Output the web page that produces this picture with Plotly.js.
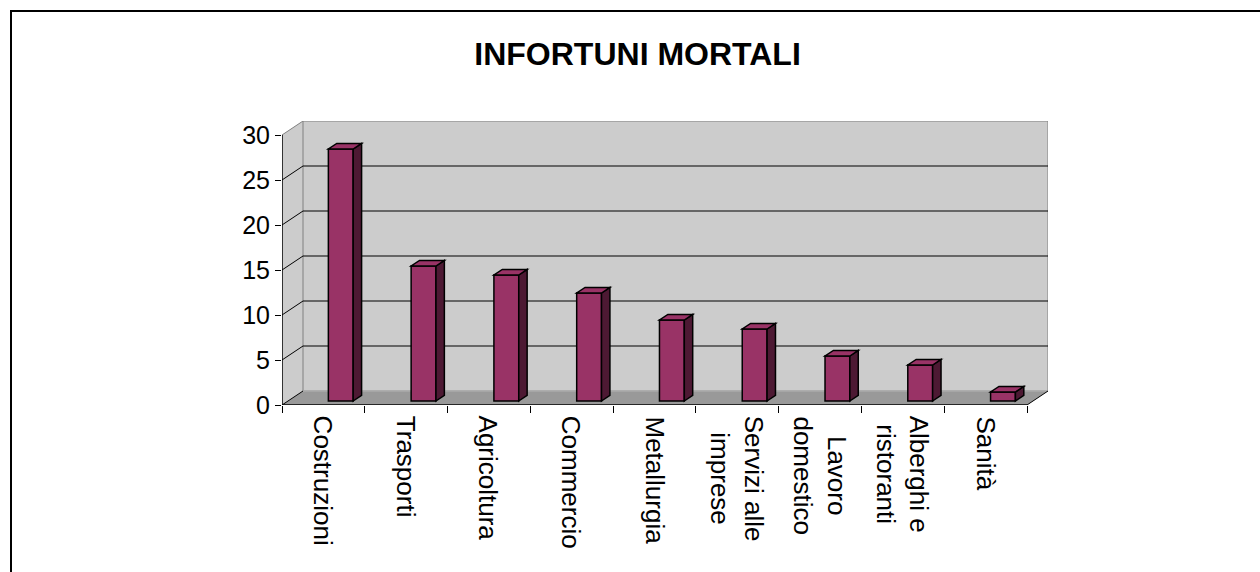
<!DOCTYPE html>
<html>
<head>
<meta charset="utf-8">
<script src="https://cdn.plot.ly/plotly-3.0.1.min.js"></script>
<style>
  body { margin: 0; background: #fff; }
  #chart { width: 1260px; height: 572px; }
  #frame { position: absolute; left: 10px; top: 10px; width: 1260px; height: 572px;
           border-left: 2px solid #000; border-top: 2px solid #000; pointer-events: none; }
</style>
</head>
<body>
<div id="chart"></div>
<div id="frame"></div>
<script>
// data
const categories = ['Costruzioni', 'Trasporti', 'Agricoltura', 'Commercio', 'Metallurgia',
                    'Servizi alle imprese', 'Lavoro domestico', 'Alberghi e ristoranti', 'Sanità'];
const tickLabels = ['Costruzioni', 'Trasporti', 'Agricoltura', 'Commercio', 'Metallurgia',
                    'Servizi alle<br>imprese', 'Lavoro<br>domestico', 'Alberghi e<br>ristoranti', 'Sanità'];
const deaths = [28, 15, 14, 12, 9, 8, 5, 4, 1];
const yTicks = [0, 5, 10, 15, 20, 25, 30];

// fake 3d geometry (pixels), converted to axis units below
const W = 1260, H = 572;
const M = { l: 282, r: 212, t: 121, b: 167 };
const depthPx = { x: 21, y: 14 };      // full floor depth
const barDepthPx = { x: 8.4, y: 5.6 }; // depth of a single column
const barFront = 0.286;                // where the column face sits in the depth
const yMax = 30;
const n = categories.length;

const plotW = W - M.l - M.r;
const plotH = H - M.t - M.b;
const xPx = (plotW - depthPx.x) / n;
const yPx = (plotH - depthPx.y) / yMax;
const DX = depthPx.x / xPx, DY = depthPx.y / yPx;
const bdx = barDepthPx.x / xPx, bdy = barDepthPx.y / yPx;
const barBase = barFront * DY;
const barOffset = 0.06, barWidth = 0.30;

const wall = '#cccccc', floor = '#999999', edge = '#808080';
const barColor = '#993366', barSide = '#4d1933';

const poly = pts => 'M ' + pts.map(p => p[0] + ',' + p[1]).join(' L ') + ' Z';
const line = (x0, y0, x1, y1, color, width, layer) => ({
    type: 'line', xref: 'x', yref: 'y', x0, y0, x1, y1,
    line: { color, width }, layer: layer || 'below'
});

const L = -0.5, R = n - 0.5;
let shapes = [];

// --- walls and floor ---
shapes.push({ type: 'path', xref: 'x', yref: 'y', layer: 'below',
    path: poly([[L, 0], [L + DX, DY], [L + DX, yMax + DY], [L, yMax]]),
    fillcolor: wall, line: { width: 0 } });
shapes.push({ type: 'path', xref: 'x', yref: 'y', layer: 'below',
    path: poly([[L + DX, DY], [R + DX, DY], [R + DX, yMax + DY], [L + DX, yMax + DY]]),
    fillcolor: wall, line: { color: edge, width: 1 } });
shapes.push({ type: 'path', xref: 'x', yref: 'y', layer: 'below',
    path: poly([[L, 0], [R, 0], [R + DX, DY], [L + DX, DY]]),
    fillcolor: floor, line: { width: 0 } });
shapes.push(line(L + DX, DY, R + DX, DY, '#b4b4b4', 1));

// gridlines on back wall + diagonals on side wall
yTicks.forEach(v => {
    const c = v === yMax ? edge : '#000';
    if (v > 0 && v < yMax) shapes.push(line(L + DX, v + DY, R + DX, v + DY, '#000', 1));
    shapes.push(line(L, v, L + DX, v + DY, c, 1));
});
shapes.push(line(R, 0, R + DX, DY, '#000', 1));

// front axes
shapes.push(line(L, 0, L, yMax, '#000', 1.5));
shapes.push(line(L, 0, R, 0, '#000', 1.5));

// --- column sides and tops ---
deaths.forEach((v, i) => {
    const x0 = i + barOffset, x1 = x0 + barWidth;
    const b = barBase, t = barBase + v;
    shapes.push({ type: 'path', xref: 'x', yref: 'y', layer: 'above',
        path: poly([[x1, b], [x1 + bdx, b + bdy], [x1 + bdx, t + bdy], [x1, t]]),
        fillcolor: barSide, line: { color: '#000', width: 1.5 } });
    shapes.push({ type: 'path', xref: 'x', yref: 'y', layer: 'above',
        path: poly([[x0, t], [x1, t], [x1 + bdx, t + bdy], [x0 + bdx, t + bdy]]),
        fillcolor: barColor, line: { color: '#000', width: 1.5 } });
});

// category labels: rotated, top-aligned under the axis, lines centred
const annotations = categories.map((c, i) => ({
    xref: 'x', yref: 'y', x: c, y: 0,
    yshift: -10, xanchor: 'center', yanchor: 'top',
    text: tickLabels[i], textangle: 90, align: 'center',
    showarrow: false, borderpad: 0,
    font: { size: 26 }
}));

const traces = [{
    type: 'bar',
    x: categories,
    y: deaths,
    base: barBase,
    offset: barOffset,
    width: barWidth,
    marker: { color: barColor, line: { color: '#000', width: 1.5 } },
    hoverinfo: 'x+y'
}];

const font = 'Liberation Sans, Arial, sans-serif';

const layout = {
    width: W, height: H,
    margin: M,
    paper_bgcolor: 'rgba(0,0,0,0)',
    plot_bgcolor: 'rgba(0,0,0,0)',
    showlegend: false,
    font: { family: font, color: '#000' },
    title: {
        text: 'INFORTUNI MORTALI',
        font: { family: font, size: 32, weight: 'bold', color: '#000' },
        xref: 'container', x: 0.506,
        yref: 'container', y: 1 - 54 / H, yanchor: 'middle'
    },
    xaxis: {
        type: 'category',
        range: [L, R + DX],
        tickson: 'boundaries',
        ticks: 'outside', ticklen: 7, tickcolor: '#000', tickwidth: 1,
        showticklabels: false,
        showgrid: false, zeroline: false, showline: false
    },
    yaxis: {
        range: [0, yMax + DY],
        tickmode: 'array',
        tickvals: yTicks,
        ticks: 'outside', ticklen: 6, tickcolor: '#000', tickwidth: 1,
        tickfont: { size: 25 },
        showgrid: false, zeroline: false, showline: false
    },
    annotations: annotations,
    shapes: shapes
};

Plotly.newPlot('chart', traces, layout, { displayModeBar: false, staticPlot: true });
</script>
</body>
</html>
